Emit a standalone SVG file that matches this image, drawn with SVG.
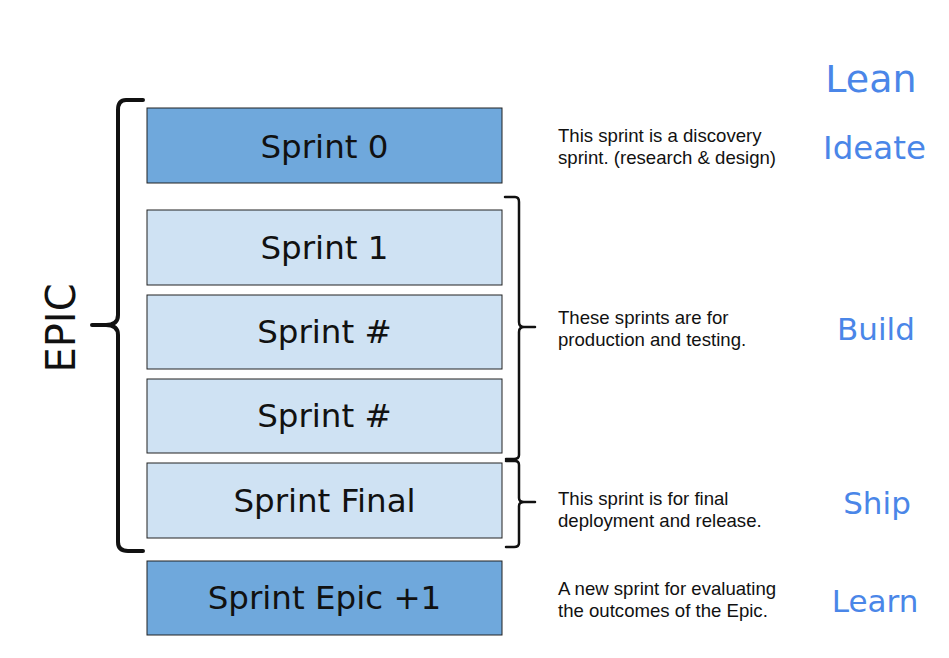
<svg xmlns="http://www.w3.org/2000/svg" width="949" height="658" viewBox="0 0 949 658">
<style>
.dark{fill:#6fa8dc;stroke:#222;stroke-width:1}
.light{fill:#cfe2f3;stroke:#222;stroke-width:1}
.bt{font-family:"DejaVu Sans",Verdana,sans-serif;font-size:32.5px;fill:#111;text-anchor:middle}
.desc{font-family:"Liberation Sans",Arial,sans-serif;font-size:18.6px;fill:#111}
.lean{font-family:"DejaVu Sans",Verdana,sans-serif;font-size:31px;fill:#4a86e8;text-anchor:middle}
.brace{fill:none;stroke:#111;stroke-linecap:round;stroke-linejoin:round}
</style>
<rect width="949" height="658" fill="#fff"/>
<g id="connectors">
<path class="brace" stroke-width="4" d="M143 100 L126 100 Q118 100 118 110 L118 315 Q118 325 106 325 L92 325 M106 325 Q118 325 118 335 L118 542 Q118 551 128 551 L143 551"/>
<path class="brace" stroke-width="2.5" d="M505 197 L515 197 Q519 197 519 202 L519 322 Q519 327 524 327 L535 327 M524 327 Q519 327 519 332 L519 455 Q519 459 514 459 L506 459"/>
<path class="brace" stroke-width="2.5" d="M506 461 L515 461 Q519 461 519 465 L519 498 Q519 502 524 502 L535 502 M524 502 Q519 502 519 506 L519 543 Q519 547 514 547 L506 547"/>
</g>
<g id="epic"><text x="75" y="328" text-anchor="middle" transform="rotate(-90 75 328)" style="font-family:'DejaVu Sans',Verdana,sans-serif;font-size:40px;fill:#111">EPIC</text></g>
<g id="sprint0"><rect class="dark" x="147" y="108" width="355" height="75"/><text class="bt" x="324.5" y="158">Sprint 0</text></g>
<g id="sprint1"><rect class="light" x="147" y="210" width="355" height="75"/><text class="bt" x="324.5" y="259">Sprint 1</text></g>
<g id="sprintA"><rect class="light" x="147" y="295" width="355" height="74"/><text class="bt" x="324.5" y="343">Sprint #</text></g>
<g id="sprintB"><rect class="light" x="147" y="379" width="355" height="74"/><text class="bt" x="324.5" y="427">Sprint #</text></g>
<g id="sprintFinal"><rect class="light" x="147" y="463" width="355" height="75"/><text class="bt" x="324.5" y="512">Sprint Final</text></g>
<g id="sprintEpic"><rect class="dark" x="147" y="561" width="355" height="74"/><text class="bt" x="324.5" y="609">Sprint Epic +1</text></g>
<g id="desc0"><text class="desc" x="558" y="142">This sprint is a discovery</text><text class="desc" x="558" y="164">sprint. (research &amp; design)</text></g>
<g id="descBuild"><text class="desc" x="558" y="324">These sprints are for</text><text class="desc" x="558" y="346">production and testing.</text></g>
<g id="descShip"><text class="desc" x="558" y="505">This sprint is for final</text><text class="desc" x="558" y="527">deployment and release.</text></g>
<g id="descLearn"><text class="desc" x="558" y="595">A new sprint for evaluating</text><text class="desc" x="558" y="617">the outcomes of the Epic.</text></g>
<g id="lean"><text class="lean" x="871" y="92" style="font-size:38px">Lean</text></g>
<g id="ideate"><text class="lean" x="874.5" y="159" style="font-size:32.5px">Ideate</text></g>
<g id="build"><text class="lean" x="876" y="340">Build</text></g>
<g id="ship"><text class="lean" x="877" y="514">Ship</text></g>
<g id="learn"><text class="lean" x="875" y="612">Learn</text></g>
</svg>
